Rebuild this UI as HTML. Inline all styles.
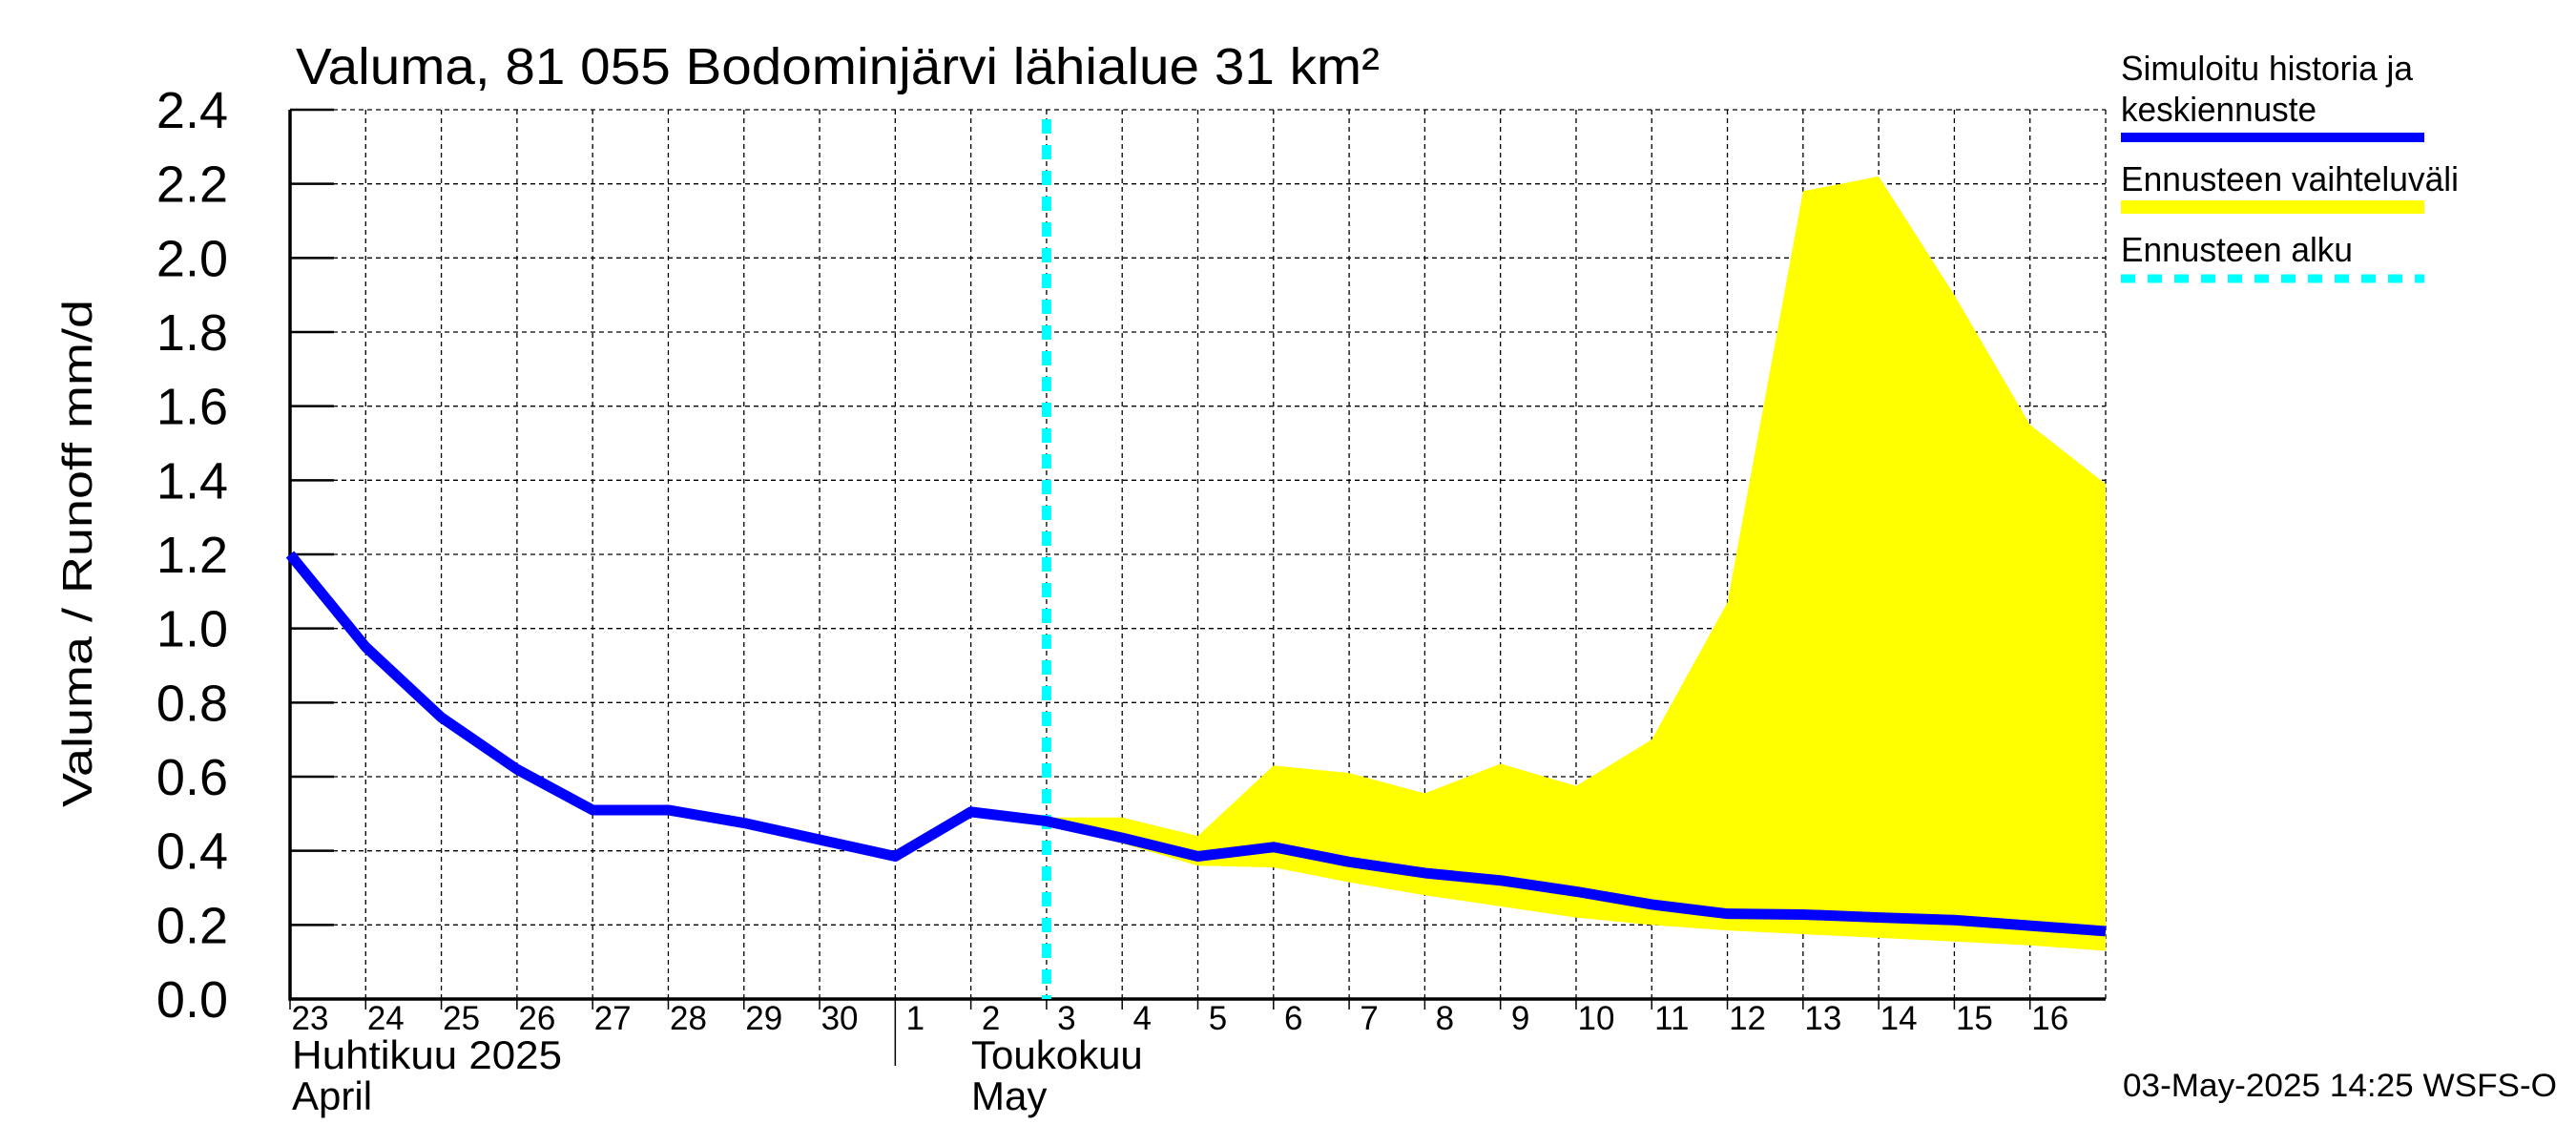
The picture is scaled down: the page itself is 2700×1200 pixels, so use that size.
<!DOCTYPE html>
<html><head><meta charset="utf-8"><style>
html,body{margin:0;padding:0;background:#fff;}
svg{display:block;font-family:"Liberation Sans",sans-serif;}
</style></head><body>
<svg id="chart" width="2700" height="1200" viewBox="0 0 2700 1200" xmlns="http://www.w3.org/2000/svg">
<text x="310" y="88" font-size="54" textLength="1136" lengthAdjust="spacingAndGlyphs">Valuma, 81 055 Bodominjärvi lähialue 31 km²</text>
<text transform="translate(96,580) rotate(-90)" text-anchor="middle" font-size="44" textLength="532" lengthAdjust="spacingAndGlyphs">Valuma / Runoff     mm/d</text>
<g id="grid"></g>
<g id="band"></g>
<g id="axes"></g>
<g id="series"></g>
<text x="306" y="1120" font-size="42" textLength="283" lengthAdjust="spacingAndGlyphs">Huhtikuu  2025</text>
<text x="306" y="1163" font-size="42">April</text>
<text x="1018" y="1120" font-size="42">Toukokuu</text>
<text x="1018" y="1163" font-size="42">May</text>
<g>
<text x="2223" y="84" font-size="36" textLength="306" lengthAdjust="spacingAndGlyphs">Simuloitu historia ja</text>
<text x="2223" y="127" font-size="36" textLength="205" lengthAdjust="spacingAndGlyphs">keskiennuste</text>
<rect x="2223" y="139" width="318" height="10" fill="#0000ff"/>
<text x="2223" y="200" font-size="36" textLength="354" lengthAdjust="spacingAndGlyphs">Ennusteen vaihteluväli</text>
<rect x="2223" y="210" width="318" height="14" fill="#ffff00"/>
<text x="2223" y="274" font-size="36" textLength="243" lengthAdjust="spacingAndGlyphs">Ennusteen alku</text>
<line x1="2223" y1="292" x2="2541" y2="292" stroke="#00ffff" stroke-width="9" stroke-dasharray="15,13"/>
</g>
<text x="2225" y="1149" font-size="34" textLength="455" lengthAdjust="spacingAndGlyphs">03-May-2025 14:25 WSFS-O</text>
</svg>
<script>
const dayLabels = ["23","24","25","26","27","28","29","30","1","2","3","4","5","6","7","8","9","10","11","12","13","14","15","16"];
const yTicks = [0,0.2,0.4,0.6,0.8,1.0,1.2,1.4,1.6,1.8,2.0,2.2,2.4];
const simValues = [1.2,0.95,0.76,0.62,0.51,0.51,0.475,0.43,0.385,0.505,0.48,0.435,0.385,0.41,0.37,0.34,0.32,0.29,0.255,0.23,0.228,0.22,0.213,0.198,0.183];
const bandStart = 10;
const bandUpper = [0.49,0.49,0.44,0.63,0.61,0.555,0.635,0.575,0.70,1.07,2.18,2.22,1.90,1.55,1.39];
const bandLower = [0.48,0.42,0.36,0.355,0.315,0.28,0.25,0.22,0.20,0.185,0.175,0.165,0.155,0.145,0.13];
const forecastStartDay = 10;

const NS="http://www.w3.org/2000/svg";
const X0=304, X1=2207, Y0=1047, Y1=115, NDAYS=24, YMAX=2.4;
function xs(d){return X0+(X1-X0)*d/NDAYS;}
function ys(v){return Y0-(Y0-Y1)*v/YMAX;}
function mk(tag,attrs,parent){const e=document.createElementNS(NS,tag);for(const k in attrs)e.setAttribute(k,attrs[k]);parent.appendChild(e);return e;}
const grid=document.getElementById('grid'),axes=document.getElementById('axes'),band=document.getElementById('band'),series=document.getElementById('series');

yTicks.forEach((t,i)=>{
  const y=ys(t);
  if(i>0){const g=mk('line',{x1:X0,x2:X1,y1:y,y2:y,stroke:'#000','stroke-width':1.3,'stroke-dasharray':'5,4'},grid);
  
  }
  const tk=mk('line',{x1:X0,x2:X0+46,y1:y,y2:y,stroke:'#000','stroke-width':2.5},axes);
  
  
  const tl=mk('text',{x:239,y:y+19,'text-anchor':'end','font-size':54},axes);
  
  
  tl.textContent=t.toFixed(1);
});
for(let d=1;d<=NDAYS;d++){
  const x=xs(d);
  const g=mk('line',{x1:x,x2:x,y1:Y1,y2:Y0,stroke:'#000','stroke-width':1.3,'stroke-dasharray':'5,4'},grid);
  
  
}
for(let d=0;d<NDAYS;d++){
  const x=xs(d);
  const tk=mk('line',{x1:x,x2:x,y1:Y0,y2:d===8?1117:1058,stroke:'#000','stroke-width':1.5},axes);
  
  
  const tl=mk('text',{x:x+21,y:1079,'text-anchor':'middle','font-size':35},axes);
  
  
  tl.textContent=dayLabels[d];
}
let pts=[];
bandUpper.forEach((v,i)=>pts.push(xs(bandStart+i)+','+ys(v)));
for(let i=bandLower.length-1;i>=0;i--)pts.push(xs(bandStart+i)+','+ys(bandLower[i]));
const poly=mk('polygon',{points:pts.join(' '),fill:'#ffff00',stroke:'none'},band);



const ax=mk('path',{d:`M${X0},${Y1-0} L${X0},${Y0} L${X1},${Y0}`,fill:'none',stroke:'#000','stroke-width':3.5},axes);



const fx=xs(forecastStartDay);
const fl=mk('line',{x1:fx,x2:fx,y1:Y1+10,y2:Y0,stroke:'#00ffff','stroke-width':10,'stroke-dasharray':'15,12'},series);



const sp=simValues.map((v,i)=>xs(i)+','+ys(v)).join(' ');
const sl=mk('polyline',{points:sp,fill:'none',stroke:'#0000ff','stroke-width':11,'stroke-linejoin':'round'},series);


</script>
</body></html>
